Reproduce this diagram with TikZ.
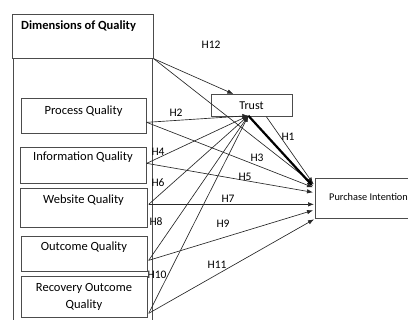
\documentclass[tikz,border=0pt]{standalone}
\usepackage{fontspec}
\setmainfont{Carlito}
\usetikzlibrary{arrows.meta}
\begin{document}
\begin{tikzpicture}[x=1pt,y=-1pt,
  frame/.style={draw=black!70, line width=0.7pt},
  box/.style={frame, inner sep=0pt, anchor=north west},
  boxtext/.style={font=\fontsize{12.5}{17}\selectfont, inner sep=0pt, align=center},
  hlbl/.style={font=\fontsize{11.5}{13}\selectfont, inner sep=0pt},
  link/.style={draw=black!85, line width=0.65pt, -{Latex[length=6pt,width=4.5pt]}},
  heavy/.style={draw=black, line width=2.2pt, -{Latex[length=6pt,width=5.5pt]}},
]
\useasboundingbox (0,0) rectangle (408,320);
\begin{scope}
\clip (0,0) rectangle (408,320);

% Header and the tall frame holding the quality dimensions
\node[box, minimum width=141pt, minimum height=44pt] (dq) at (12,14) {};
\node[font=\bfseries\fontsize{12.5}{14}\selectfont, inner sep=0pt, anchor=west] (dqt) at (21,26) {Dimensions of Quality};
\draw[frame] (13,340) -- (13,58) -- (152,58) -- (152,340);

% Quality dimension boxes
\node[box, minimum width=125pt, minimum height=35pt] (pq) at (21,98) {};
\node[boxtext] (pqt) at (83.5,111) {Process Quality};
\node[box, minimum width=126pt, minimum height=36pt] (iq) at (20,147) {};
\node[boxtext] (iqt) at (83,157) {Information Quality};
\node[box, minimum width=127pt, minimum height=39pt] (wq) at (20,188) {};
\node[boxtext] (wqt) at (83.5,200) {Website Quality};
\node[box, minimum width=126pt, minimum height=35pt] (oq) at (21,236) {};
\node[boxtext] (oqt) at (84,247) {Outcome Quality};
\node[box, minimum width=126pt, minimum height=41pt] (rq) at (21,276) {};
\node[boxtext] (rqt) at (84,296.5) {Recovery Outcome\\Quality};

% Mediator and outcome
\node[box, minimum width=81pt, minimum height=22pt] (tr) at (211,94) {};
\node[boxtext, font=\fontsize{12}{14}\selectfont] (trt) at (251.5,106) {Trust};
\node[box, minimum width=140pt, minimum height=40pt] (pi) at (315,178) {};
\node[boxtext, font=\fontsize{10.3}{12}\selectfont, anchor=west] (pit) at (329,197) {Purchase Intention};

% Ports on the box edges
\coordinate (pqo) at ([yshift=-6.5pt]pq.east);
\coordinate (iqo) at ([yshift=2pt]iq.east);
\coordinate (wqo) at ([xshift=1pt,yshift=3.5pt]wq.east);
\coordinate (oqo) at ([xshift=1pt,yshift=-6.5pt]oq.east);
\coordinate (rqo) at ([xshift=1pt,yshift=-16.5pt]rq.east);
\coordinate (tb) at ([xshift=-3.5pt,yshift=1pt]tr.south);
\coordinate (tr1) at ([xshift=14.5pt]tr.south);
\coordinate (ttop) at ([xshift=-18.5pt]tr.north);
\coordinate (p0) at ([xshift=-1pt,yshift=14pt]pi.west);
\coordinate (p1) at ([xshift=-2pt,yshift=15pt]pi.west);
\coordinate (p2) at ([xshift=-2pt,yshift=12pt]pi.west);
\coordinate (p3) at ([xshift=-2pt,yshift=11pt]pi.west);
\coordinate (p5) at ([xshift=-2pt,yshift=6pt]pi.west);
\coordinate (p7) at ([xshift=-1pt,yshift=-6pt]pi.west);
\coordinate (p9) at ([xshift=-2pt,yshift=-12pt]pi.west);
\coordinate (p11) at ([xshift=-1pt,yshift=-21pt]pi.west);

% Paths into Trust
\draw[link] (dq.south east) -- (ttop);
\draw[link] (pqo) -- (tb);
\draw[link] (iqo) -- (tb);
\draw[link] (wqo) -- (tb);
\draw[link] (oqo) -- (tb);
\draw[link] (rqo) -- (tb);

% Paths into Purchase Intention
\draw[link] (dq.south east) -- (p0);
\draw[link] (tr1) -- (p1);
\draw[heavy] (tb) -- (p2);
\draw[link] (pqo) -- (p3);
\draw[link] (iqo) -- (p5);
\draw[link] (wqo) -- (p7);
\draw[link] (oqo) -- (p9);
\draw[link] (rqo) -- (p11);

% Hypothesis labels
\node[hlbl] (h12) at (211,45) {H12};
\node[hlbl] (h1) at (288,137) {H1};
\node[hlbl] (h2) at (176,113) {H2};
\node[hlbl] (h3) at (257,158) {H3};
\node[hlbl] (h4) at (158,152) {H4};
\node[hlbl] (h5) at (245,177) {H5};
\node[hlbl] (h6) at (158,183) {H6};
\node[hlbl] (h7) at (228,199) {H7};
\node[hlbl] (h8) at (156,222) {H8};
\node[hlbl] (h9) at (223,224) {H9};
\node[hlbl] (h10) at (157,275) {H10};
\node[hlbl] (h11) at (217,265) {H11};
\end{scope}
\end{tikzpicture}
\end{document}
